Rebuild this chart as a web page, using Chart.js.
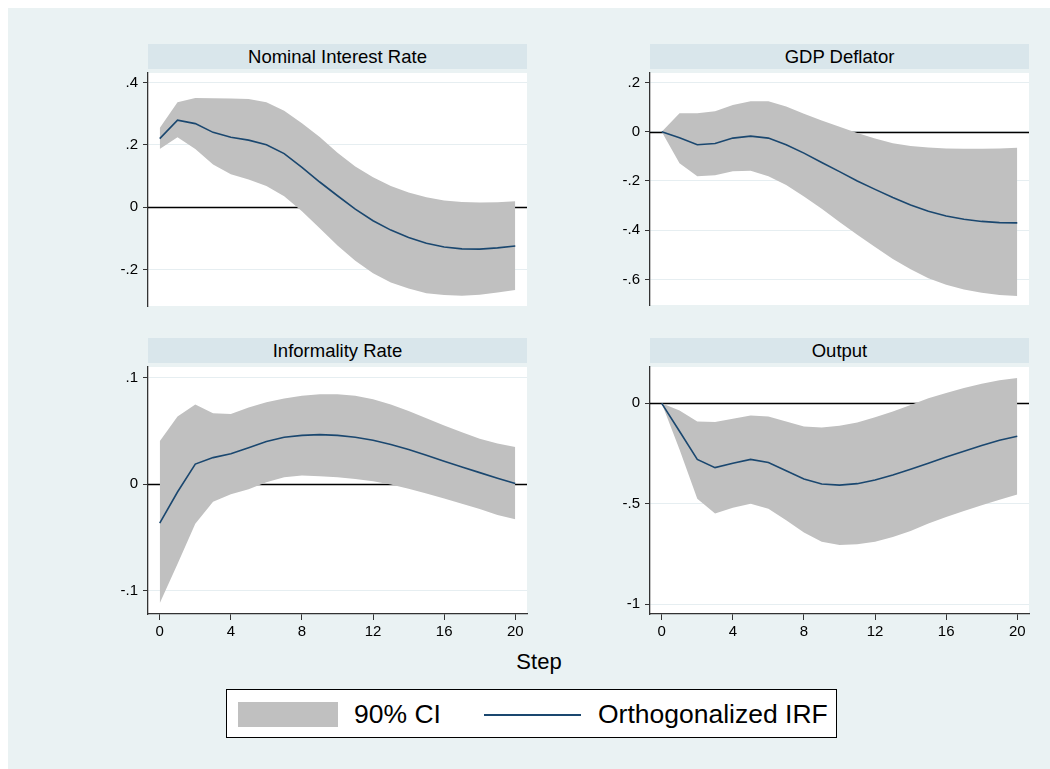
<!DOCTYPE html>
<html>
<head>
<meta charset="utf-8">
<script src="https://cdn.jsdelivr.net/npm/chart.js@4.4.1/dist/chart.umd.min.js"></script>
<style>
  body { margin: 0; background: #ffffff; font-family: "Liberation Sans", Arial, sans-serif; }
  #bg { position: absolute; left: 8px; top: 8px; width: 1042px; height: 761px; background: #eaf2f3; }
  .strip { position: absolute; height: 25px; background: #d9e6eb; font-size: 18.5px; line-height: 25px; text-align: center; color: #000; }
  canvas { position: absolute; }
  #step { position: absolute; left: 439px; width: 200px; top: 649px; text-align: center; font-size: 22px; color: #000; }
  #legend { position: absolute; left: 226px; top: 689px; width: 611px; height: 49px; background: #fff; border: 1px solid #000; box-sizing: border-box; }
  #legend .sw { position: absolute; left: 11px; top: 12px; width: 100px; height: 25px; background: #c0c0c0; }
  #legend .ln { position: absolute; left: 257px; top: 24px; width: 97px; height: 2px; background: #1a476f; }
  #legend .tx { position: absolute; top: 8px; font-size: 26.5px; line-height: 32px; color: #000; }
</style>
</head>
<body>
<div id="bg"></div>
<div class="strip" style="left:148px; top:44px; width:379px;">Nominal Interest Rate</div>
<div class="strip" style="left:650px; top:44px; width:379px;">GDP Deflator</div>
<div class="strip" style="left:148px; top:338px; width:379px;">Informality Rate</div>
<div class="strip" style="left:650px; top:338px; width:379px;">Output</div>
<canvas id="p1"></canvas>
<canvas id="p2"></canvas>
<canvas id="p3"></canvas>
<canvas id="p4"></canvas>
<div id="step">Step</div>
<div id="legend">
  <div class="sw"></div><div class="tx" style="left:127px;">90% CI</div>
  <div class="ln"></div><div class="tx" style="left:371px;">Orthogonalized IRF</div>
</div>
<script>
// steps 0..20
const steps = [0, 1, 2, 3, 4, 5, 6, 7, 8, 9, 10, 11, 12, 13, 14, 15, 16, 17, 18, 19, 20];
const xTicks = [0, 4, 8, 12, 16, 20];

// Nominal Interest Rate
const nirIrf = [0.220, 0.279, 0.268, 0.240, 0.224, 0.215, 0.200, 0.172, 0.128, 0.081, 0.037, -0.006, -0.043, -0.073, -0.097, -0.115, -0.127, -0.133, -0.134, -0.130, -0.124];
const nirHi = [0.254, 0.336, 0.350, 0.349, 0.348, 0.347, 0.336, 0.309, 0.269, 0.225, 0.175, 0.131, 0.096, 0.068, 0.047, 0.032, 0.022, 0.017, 0.015, 0.016, 0.019];
const nirLo = [0.187, 0.224, 0.187, 0.137, 0.106, 0.089, 0.068, 0.035, -0.013, -0.067, -0.122, -0.171, -0.211, -0.241, -0.260, -0.275, -0.281, -0.283, -0.280, -0.273, -0.265];
const nirTicks = [0.4, 0.2, 0, -0.2];

// GDP Deflator
const gdpIrf = [0, -0.025, -0.053, -0.048, -0.026, -0.018, -0.026, -0.053, -0.087, -0.125, -0.162, -0.200, -0.234, -0.267, -0.297, -0.323, -0.342, -0.355, -0.364, -0.369, -0.370];
const gdpHi = [0, 0.075, 0.075, 0.083, 0.108, 0.123, 0.123, 0.102, 0.073, 0.045, 0.020, -0.005, -0.028, -0.047, -0.058, -0.064, -0.068, -0.069, -0.069, -0.068, -0.065];
const gdpLo = [0, -0.128, -0.181, -0.177, -0.160, -0.158, -0.181, -0.216, -0.263, -0.313, -0.366, -0.418, -0.468, -0.516, -0.558, -0.594, -0.621, -0.640, -0.653, -0.662, -0.667];
const gdpTicks = [0.2, 0, -0.2, -0.4, -0.6];

// Informality Rate
const infIrf = [-0.0366, -0.0074, 0.0188, 0.0249, 0.0286, 0.0342, 0.0400, 0.0440, 0.0458, 0.0465, 0.0458, 0.0440, 0.0412, 0.0372, 0.0326, 0.0271, 0.0215, 0.0160, 0.0108, 0.0055, 0.0006];
const infHi = [0.0403, 0.0634, 0.0748, 0.0665, 0.0658, 0.0720, 0.0769, 0.0803, 0.0831, 0.0843, 0.0843, 0.0831, 0.0797, 0.0748, 0.0686, 0.0618, 0.0551, 0.0486, 0.0425, 0.0382, 0.0348];
const infLo = [-0.112, -0.0751, -0.0372, -0.0166, -0.0095, -0.0049, 0.0018, 0.0065, 0.0080, 0.0074, 0.0065, 0.0049, 0.0028, -0.0003, -0.0043, -0.0089, -0.0135, -0.0185, -0.0234, -0.0289, -0.0329];
const infTicks = [0.1, 0, -0.1];

// Output
const outIrf = [0, -0.139, -0.279, -0.320, -0.298, -0.279, -0.295, -0.336, -0.377, -0.402, -0.407, -0.400, -0.382, -0.357, -0.328, -0.298, -0.267, -0.238, -0.210, -0.184, -0.164];
const outHi = [0, -0.036, -0.090, -0.093, -0.077, -0.061, -0.066, -0.090, -0.115, -0.120, -0.111, -0.095, -0.069, -0.041, -0.008, 0.025, 0.052, 0.077, 0.098, 0.115, 0.126];
const outLo = [0, -0.230, -0.475, -0.549, -0.520, -0.500, -0.525, -0.582, -0.643, -0.689, -0.705, -0.702, -0.689, -0.666, -0.636, -0.598, -0.566, -0.536, -0.508, -0.480, -0.454];
const outTicks = [0, -0.5, -1];

function stataFmt(v) {
    const n = Number(v.toFixed(3));
    if (n === 0) return '0';
    return String(n).replace(/^(-?)0\./, '$1.');
}

// white plot region + zero line under the bands
const plotBg = {
    id: 'plotBg',
    beforeDraw(chart) {
        const a = chart.chartArea, c = chart.ctx;
        c.save();
        c.fillStyle = '#ffffff';
        c.fillRect(a.left, a.top, a.right - a.left, a.bottom - a.top);
        c.restore();
    },
    beforeDatasetsDraw(chart) {
        const a = chart.chartArea, c = chart.ctx;
        const y0 = Math.round(chart.scales.y.getPixelForValue(0)) + 0.5;
        c.save();
        c.strokeStyle = '#000000';
        c.lineWidth = 1.4;
        c.beginPath();
        c.moveTo(a.left, y0);
        c.lineTo(a.right, y0);
        c.stroke();
        c.restore();
    }
};

function makePanel(id, left, top, plotH, showX, irf, lo, hi, yTicks, yMin, yMax) {
    const canvas = document.getElementById(id);
    const padTop = 10, yW = 52, padRight = 14, xH = showX ? 30 : 0;
    canvas.width = yW + 379 + padRight;
    canvas.height = padTop + plotH + xH;
    canvas.style.left = (left - yW) + 'px';
    canvas.style.top = (top - padTop) + 'px';
    const pts = arr => steps.map((s, i) => ({ x: s, y: arr[i] }));
    new Chart(canvas.getContext('2d'), {
        type: 'line',
        data: {
            datasets: [
                { label: 'lo', data: pts(lo), order: 1, borderWidth: 0, borderColor: 'rgba(0,0,0,0)', pointRadius: 0, fill: false, tension: 0 },
                { label: '90% CI', data: pts(hi), order: 1, borderWidth: 0, borderColor: 'rgba(0,0,0,0)', backgroundColor: '#c0c0c0', pointRadius: 0, fill: '-1', tension: 0 },
                { label: 'Orthogonalized IRF', data: pts(irf), order: 0, borderWidth: 1.6, borderColor: '#1a476f', pointRadius: 0, fill: false, tension: 0 }
            ]
        },
        options: {
            responsive: false,
            animation: false,
            events: [],
            layout: { padding: { top: padTop, right: padRight, left: 0, bottom: 0 } },
            plugins: { legend: { display: false }, tooltip: { enabled: false } },
            scales: {
                x: {
                    type: 'linear',
                    display: showX,
                    min: -0.66,
                    max: 20.66,
                    afterBuildTicks: s => { s.ticks = xTicks.map(v => ({ value: v })); },
                    afterFit: s => { s.height = xH; },
                    grid: { drawOnChartArea: false, drawTicks: true, tickLength: 6, tickColor: '#333333' },
                    border: { display: true, color: '#333333', width: 1.3 },
                    ticks: { color: '#000', padding: 3, maxRotation: 0, font: { family: 'Liberation Sans', size: 15 } }
                },
                y: {
                    type: 'linear',
                    min: yMin,
                    max: yMax,
                    afterBuildTicks: s => { s.ticks = yTicks.map(v => ({ value: v })); },
                    afterFit: s => { s.width = yW; },
                    grid: { color: '#e6eef1', lineWidth: 1, drawTicks: true, tickLength: 5, tickColor: '#333333' },
                    border: { display: true, color: '#333333', width: 1.3 },
                    ticks: { color: '#000', padding: 5, callback: v => stataFmt(v), font: { family: 'Liberation Sans', size: 15 } }
                }
            }
        },
        plugins: [plotBg]
    });
}

makePanel('p1', 148, 69, 251, false, nirIrf, nirLo, nirHi, nirTicks, -0.316, 0.430);
makePanel('p2', 650, 69, 250, false, gdpIrf, gdpLo, gdpHi, gdpTicks, -0.703, 0.238);
makePanel('p3', 148, 363, 251, true, infIrf, infLo, infHi, infTicks, -0.122, 0.110);
makePanel('p4', 650, 363, 251, true, outIrf, outLo, outHi, outTicks, -1.049, 0.181);
</script>
</body>
</html>
